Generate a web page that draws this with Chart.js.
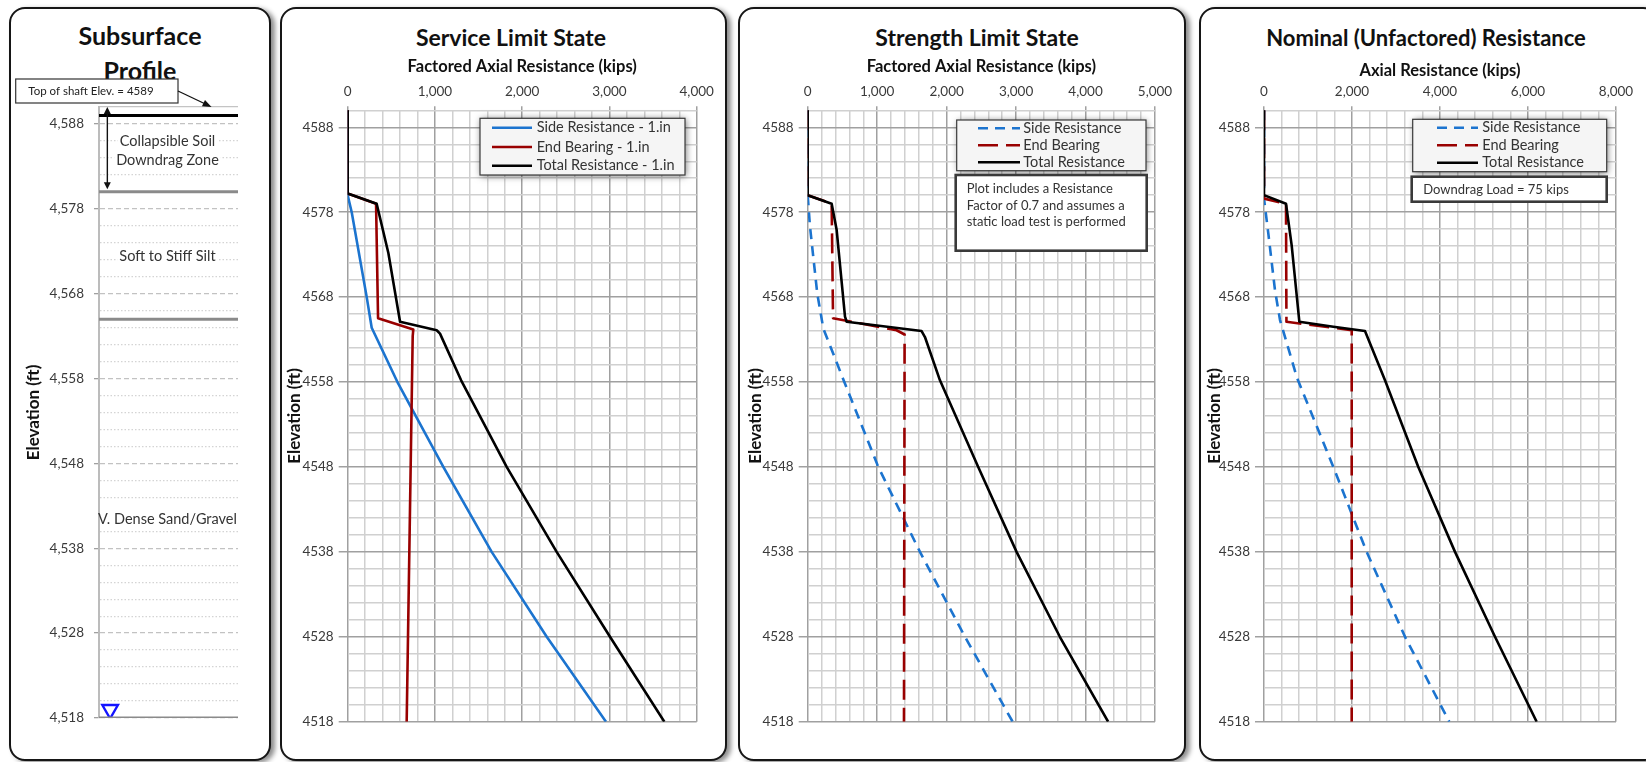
<!DOCTYPE html>
<html lang="en">
<head>
<meta charset="UTF-8">
<title>Drilled Shaft Axial Resistance</title>
<script src="https://cdn.jsdelivr.net/npm/chart.js@4.4.2/dist/chart.umd.min.js"></script>
<style>
  body { margin: 0; background: #fff; width: 1646px; height: 762px; overflow: hidden; position: relative;
         font-family: Lato, 'Open Sans', sans-serif; }
  .panel { position: absolute; top: 7px; height: 750px; border: 2px solid #161616; border-radius: 16px;
           background: #fff; box-shadow: 4px 2px 5px rgba(0,0,0,0.45); overflow: hidden; }
  .panel canvas { position: absolute; left: 0; top: 0; }
  .ttl { position: absolute; transform: translateX(-50%); white-space: nowrap; font-weight: bold;
         color: #111; text-align: center; }
</style>
</head>
<body>
<div class="panel" style="left:9px;width:258px">
  <div class="ttl" style="left:129px;top:8.5px;font-size:25px;line-height:35px">Subsurface<br>Profile</div>
  <canvas id="profile" width="258" height="750"></canvas>
</div>
<div class="panel" style="left:280px;width:443px">
  <div class="ttl" style="left:229px;top:13.7px;font-size:23px;line-height:28px">Service Limit State</div>
  <canvas id="service" width="443" height="750"></canvas>
</div>
<div class="panel" style="left:738px;width:444px">
  <div class="ttl" style="left:237px;top:13.7px;font-size:23px;line-height:28px">Strength Limit State</div>
  <canvas id="strength" width="444" height="750"></canvas>
</div>
<div class="panel" style="left:1199px;width:456px">
  <div class="ttl" style="left:225px;top:15.3px;font-size:22px;line-height:28px">Nominal (Unfactored) Resistance</div>
  <canvas id="nominal" width="456" height="750"></canvas>
</div>

<script>
// elevation axis, shared by all four panels
const elevMin = 4518;
const elevMax = 4590;
const elevTicks = [4518, 4528, 4538, 4548, 4558, 4568, 4578, 4588];

// subsurface profile
const shaftTopElev = 4589;
const layerBoundaries = [4580, 4565, 4518];
const layerNames = [['Collapsible Soil', 'Downdrag Zone'], ['Soft to Stiff Silt'], ['V. Dense Sand/Gravel']];
const layerNameElev = [4584.8, 4572.4, 4541.4];
const waterTableElev = 4519;
const downdragZone = [4590, 4580.3];
const shaftNote = 'Top of shaft Elev. = 4589';

// Service limit state (kips vs elevation)
const svcTicks = [0, 1000, 2000, 3000, 4000];
const svcLabels = ['Side Resistance - 1.in', 'End Bearing - 1.in', 'Total Resistance - 1.in'];
const svcSideElev = [4590, 4580, 4578, 4568, 4564.4, 4558, 4548, 4538, 4528, 4518];
const svcSide     = [0, 0, 46, 218, 275, 570, 1096, 1650, 2281, 2960];
const svcEndElev  = [4590, 4580.2, 4579, 4565.5, 4564.2, 4563.4, 4518];
const svcEnd      = [0, 0, 325, 348, 752, 745, 676];
const svcTotElev  = [4590, 4580.2, 4579, 4573.2, 4565.1, 4564.1, 4563.7, 4558.2, 4548, 4538, 4528, 4518];
const svcTot      = [0, 0, 332, 466, 600, 1020, 1058, 1300, 1822, 2395, 3006, 3629];

// Strength limit state
const strTicks = [0, 1000, 2000, 3000, 4000, 5000];
const resLabels = ['Side Resistance', 'End Bearing', 'Total Resistance'];
const strSideElev = [4590, 4580, 4576.3, 4568.4, 4564.3, 4558.8, 4548, 4538, 4528, 4518];
const strSide     = [0, 0, 33, 138, 225, 489, 1016, 1616, 2264, 2950];
const strEndElev  = [4590, 4580, 4579, 4565.5, 4564.1, 4563.6, 4518];
const strEnd      = [0, 0, 345, 365, 1280, 1395, 1386];
const strTotElev  = [4590, 4580, 4579, 4575.9, 4565.7, 4565.1, 4564, 4563.3, 4558.2, 4548, 4538, 4528, 4518];
const strTot      = [0, 0, 345, 417, 537, 561, 1640, 1688, 1904, 2455, 3007, 3630, 4325];
const strNote = ['Plot includes a Resistance', 'Factor of 0.7 and assumes a', 'static load test is performed'];

// Nominal (unfactored) resistance
const nomTicks = [0, 2000, 4000, 6000, 8000];
const nomSideElev = [4590, 4579.6, 4575.5, 4568.8, 4565.3, 4558.5, 4548, 4538, 4528, 4518];
const nomSide     = [0, 0, 98, 250, 364, 750, 1576, 2333, 3205, 4210];
const nomEndElev  = [4590, 4579.6, 4579, 4565.1, 4564.1, 4518];
const nomEnd      = [0, 0, 500, 510, 1993, 1993];
const nomTotElev  = [4590, 4580, 4579, 4574.1, 4565.1, 4564.5, 4564, 4558.2, 4548, 4538, 4528, 4518];
const nomTot      = [0, 0, 500, 629, 803, 1576, 2295, 2750, 3507, 4341, 5250, 6197];
const nomNote = ['Downdrag Load = 75 kips'];

const FONT = 'Lato, "Open Sans", sans-serif';
const TICK = '#3a3a3a';
const MAJOR = '#a0a0a0';
const MINOR = '#d0d0d0';
const BLUE = '#1c74cf';
const RED = '#990000';
const BLACK = '#000';
const NONE = 'rgba(0,0,0,0)';

const pts = (xs, ys) => xs.map((x, i) => ({x: x, y: ys[i]}));
const majorElev = c => c.tick && elevTicks.includes(c.tick.value);

// legend + note box, drawn from the chart's own datasets
function boxPlugin(lg, note) {
  return {
    id: 'boxes',
    afterDraw(chart) {
      const ctx = chart.ctx;
      ctx.save();
      ctx.shadowColor = 'rgba(0,0,0,0.55)';
      ctx.shadowBlur = 7;
      ctx.shadowOffsetX = 1;
      ctx.shadowOffsetY = 1;
      ctx.fillStyle = '#f5f5f5';
      ctx.fillRect(lg.x, lg.y, lg.w, lg.h);
      ctx.restore();
      ctx.save();
      ctx.strokeStyle = '#3a3a3a';
      ctx.lineWidth = 1.2;
      ctx.strokeRect(lg.x, lg.y, lg.w, lg.h);
      ctx.font = '14.5px ' + FONT;
      ctx.textBaseline = 'middle';
      chart.data.datasets.forEach((ds, i) => {
        const y = lg.rows[i];
        ctx.beginPath();
        ctx.setLineDash(ds.borderDash);
        ctx.lineWidth = ds.borderWidth;
        ctx.strokeStyle = ds.borderColor;
        ctx.moveTo(lg.x1, y);
        ctx.lineTo(lg.x2, y);
        ctx.stroke();
        ctx.fillStyle = '#333';
        ctx.fillText(ds.label, lg.tx, y);
      });
      ctx.setLineDash([]);
      if (note) {
        ctx.fillStyle = '#fff';
        ctx.fillRect(note.x, note.y, note.w, note.h);
        ctx.strokeStyle = '#3a3a3a';
        ctx.strokeRect(note.x, note.y, note.w, note.h);
        ctx.fillStyle = '#333';
        ctx.font = '13px ' + FONT;
        note.text.forEach((t, i) => ctx.fillText(t, note.tx, note.rows[i]));
      }
      ctx.restore();
    }
  };
}

function resistanceChart(id, s) {
  const cv = document.getElementById(id);
  const W = cv.width, H = cv.height;
  const titleSize = 16.5;
  const major = c => c.tick && s.xTicks.includes(c.tick.value);
  return new Chart(cv, {
    type: 'scatter',
    data: {
      datasets: s.series.map((d, i) => ({
        label: d.label,
        data: pts(d.kips, d.elev),
        showLine: true,
        borderColor: d.color,
        backgroundColor: d.color,
        borderWidth: 2.6,
        borderDash: d.dash,
        borderJoinStyle: 'round',
        pointRadius: 0,
        order: s.series.length - i
      }))
    },
    options: {
      responsive: false,
      animation: false,
      events: [],
      layout: {padding: {left: 0, top: 0, right: W - s.area.r, bottom: H - s.area.b}},
      plugins: {legend: {display: false}, tooltip: {enabled: false}},
      scales: {
        x: {
          type: 'linear', position: 'top', min: 0, max: s.xTicks[s.xTicks.length - 1],
          ticks: {stepSize: s.xStep, autoSkip: false, maxRotation: 0, minRotation: 0, padding: 7,
                  color: TICK, font: {family: FONT, size: 13.5},
                  callback: v => s.xTicks.includes(v) ? v.toLocaleString('en-US') : ''},
          grid: {color: c => major(c) ? MAJOR : MINOR, lineWidth: 1.5, tickLength: 4,
                 tickColor: c => major(c) ? MAJOR : NONE},
          border: {display: false},
          title: {display: true, text: s.xTitle, color: '#111',
                  font: {family: FONT, size: titleSize, weight: 'bold'},
                  padding: {top: s.xTitleY - titleSize * 0.6, bottom: 0}},
          afterFit: sc => { sc.height = s.area.t; }
        },
        y: {
          min: elevMin, max: elevMax,
          ticks: {stepSize: 2, autoSkip: false, padding: 5, color: TICK, font: {family: FONT, size: 13.5},
                  callback: v => elevTicks.includes(v) ? String(v) : ''},
          grid: {color: c => majorElev(c) ? MAJOR : MINOR, lineWidth: 1.5, tickLength: 9,
                 tickColor: c => majorElev(c) ? MAJOR : NONE},
          border: {display: false},
          title: {display: true, text: 'Elevation (ft)', color: '#111',
                  font: {family: FONT, size: 17, weight: 'bold'},
                  padding: {top: s.yTitleX - 17 * 0.6, bottom: 0}},
          afterFit: sc => { sc.width = s.area.l; }
        }
      }
    },
    plugins: [boxPlugin(s.legend, s.note)]
  });
}

const solid = [];
const dashSide = [10, 7];
const dashEnd = [20, 8];

resistanceChart('service', {
  area: {l: 65.7, r: 414.7, t: 101.3, b: 712.7},
  xTicks: svcTicks, xStep: 200, xTitle: 'Factored Axial Resistance (kips)', xTitleY: 57.7, yTitleX: 13,
  series: [
    {label: svcLabels[0], kips: svcSide, elev: svcSideElev, color: BLUE, dash: solid},
    {label: svcLabels[1], kips: svcEnd, elev: svcEndElev, color: RED, dash: solid},
    {label: svcLabels[2], kips: svcTot, elev: svcTotElev, color: BLACK, dash: solid}
  ],
  legend: {x: 198, y: 109.3, w: 205, h: 56.7, x1: 210, x2: 250, tx: 254.7, rows: [118.7, 138, 156.7]}
});

resistanceChart('strength', {
  area: {l: 67.7, r: 415, t: 101.3, b: 712.7},
  xTicks: strTicks, xStep: 200, xTitle: 'Factored Axial Resistance (kips)', xTitleY: 57.7, yTitleX: 16,
  series: [
    {label: resLabels[0], kips: strSide, elev: strSideElev, color: BLUE, dash: dashSide},
    {label: resLabels[1], kips: strEnd, elev: strEndElev, color: RED, dash: dashEnd},
    {label: resLabels[2], kips: strTot, elev: strTotElev, color: BLACK, dash: solid}
  ],
  legend: {x: 216.7, y: 111, w: 189.3, h: 50.7, x1: 238, x2: 280, tx: 283.3, rows: [119.3, 136.3, 153.3]},
  note: {x: 215.7, y: 166, w: 191, h: 75.7, tx: 226.7, rows: [180, 196.7, 213.3], text: strNote}
});

resistanceChart('nominal', {
  area: {l: 63, r: 415, t: 101.3, b: 712.7},
  xTicks: nomTicks, xStep: 400, xTitle: 'Axial Resistance (kips)', xTitleY: 61.7, yTitleX: 14,
  series: [
    {label: resLabels[0], kips: nomSide, elev: nomSideElev, color: BLUE, dash: dashSide},
    {label: resLabels[1], kips: nomEnd, elev: nomEndElev, color: RED, dash: dashEnd},
    {label: resLabels[2], kips: nomTot, elev: nomTotElev, color: BLACK, dash: solid}
  ],
  legend: {x: 211.7, y: 110.3, w: 194, h: 52.4, x1: 236, x2: 277, tx: 281.3, rows: [118.7, 136.3, 153.7]},
  note: {x: 210.7, y: 167.7, w: 195, h: 25, tx: 222.3, rows: [181], text: nomNote}
});

// subsurface profile panel
function arrowHead(ctx, x, y, ang, len, half) {
  ctx.beginPath();
  ctx.moveTo(x, y);
  ctx.lineTo(x - len * Math.cos(ang) + half * Math.sin(ang), y - len * Math.sin(ang) - half * Math.cos(ang));
  ctx.lineTo(x - len * Math.cos(ang) - half * Math.sin(ang), y - len * Math.sin(ang) + half * Math.cos(ang));
  ctx.closePath();
  ctx.fill();
}

const profilePlugin = {
  id: 'profile',
  afterDraw(chart) {
    const {ctx, chartArea: ca} = chart;
    const x = chart.scales.x, y = chart.scales.y;
    ctx.save();
    // layer names, on a white strip that stays inside the plot
    ctx.font = '14.5px ' + FONT;
    ctx.textAlign = 'center';
    ctx.textBaseline = 'middle';
    const cx = (ca.left + ca.right) / 2 - 1;
    layerNames.forEach((lines, i) => {
      const yc = y.getPixelForValue(layerNameElev[i]);
      lines.forEach((t, j) => {
        const ty = yc + (j - (lines.length - 1) / 2) * 19;
        const w = ctx.measureText(t).width;
        const l = Math.max(ca.left + 1.5, cx - w / 2 - 2);
        const r = Math.min(ca.right, cx + w / 2 + 2);
        ctx.fillStyle = '#fff';
        ctx.fillRect(l, ty - 8, r - l, 16);
        ctx.fillStyle = '#333';
        ctx.fillText(t, cx, ty);
      });
    });
    // downdrag zone arrow
    const ax = x.getPixelForValue(0.06);
    const y1 = y.getPixelForValue(downdragZone[0]), y2 = y.getPixelForValue(downdragZone[1]);
    ctx.strokeStyle = '#111';
    ctx.fillStyle = '#111';
    ctx.lineWidth = 1.4;
    ctx.beginPath();
    ctx.moveTo(ax, y1 + 4);
    ctx.lineTo(ax, y2 - 4);
    ctx.stroke();
    arrowHead(ctx, ax, y1, -Math.PI / 2, 7, 3.5);
    arrowHead(ctx, ax, y2, Math.PI / 2, 7, 3.5);
    // callout for top of shaft
    const bx = 4.7, by = 70, bw = 162.3, bh = 24;
    ctx.fillStyle = '#fff';
    ctx.fillRect(bx, by, bw, bh);
    ctx.strokeStyle = '#333';
    ctx.lineWidth = 1.2;
    ctx.strokeRect(bx, by, bw, bh);
    ctx.fillStyle = '#222';
    ctx.font = '11.5px ' + FONT;
    ctx.textAlign = 'left';
    ctx.fillText(shaftNote, 17.3, by + bh / 2);
    const tx = x.getPixelForValue(0.81), ty = y.getPixelForValue(elevMax);
    ctx.strokeStyle = '#111';
    ctx.fillStyle = '#111';
    ctx.lineWidth = 1.3;
    ctx.beginPath();
    ctx.moveTo(bx + bw, by + bh / 2);
    ctx.lineTo(tx - 3, ty - 1.5);
    ctx.stroke();
    arrowHead(ctx, tx, ty, Math.atan2(ty - (by + bh / 2), tx - (bx + bw)), 9, 3.5);
    ctx.restore();
  }
};

(function () {
  const cv = document.getElementById('profile');
  const area = {l: 88, r: 227, t: 98, b: 709};
  const lineDs = (elev, color, width) => ({
    data: pts([0, 1], [elev, elev]), showLine: true, borderColor: color, borderWidth: width, pointRadius: 0
  });
  new Chart(cv, {
    type: 'scatter',
    data: {
      datasets: [
        lineDs(shaftTopElev, '#000', 3),
        ...layerBoundaries.map(e => lineDs(e, '#8a8a8a', 3)),
        {data: [{x: 0.08, y: waterTableElev}], pointStyle: 'triangle', rotation: 180, pointRadius: 9,
         borderColor: '#1414ff', backgroundColor: '#fff', borderWidth: 2.4}
      ]
    },
    options: {
      responsive: false,
      animation: false,
      events: [],
      layout: {padding: {left: 0, top: area.t, right: cv.width - area.r, bottom: cv.height - area.b}},
      plugins: {legend: {display: false}, tooltip: {enabled: false}},
      scales: {
        x: {type: 'linear', display: false, min: 0, max: 1},
        y: {
          min: elevMin, max: elevMax,
          ticks: {stepSize: 2, autoSkip: false, padding: 10, color: TICK, font: {family: FONT, size: 13.5},
                  callback: v => elevTicks.includes(v) ? v.toLocaleString('en-US') : ''},
          grid: {color: c => c.tick && c.tick.value === elevMax ? '#c4c4c4' : majorElev(c) ? '#c2c2c2' : '#d4d4d4',
                 lineWidth: 1.3, tickLength: 5,
                 tickColor: c => majorElev(c) ? '#a0a0a0' : NONE},
          border: {display: true, color: '#bcbcbc', width: 2,
                   dash: c => !c.tick || c.tick.value === elevMax ? [] : majorElev(c) ? [5, 3] : [1.5, 2]},
          title: {display: true, text: 'Elevation (ft)', color: '#111',
                  font: {family: FONT, size: 17, weight: 'bold'},
                  padding: {top: 23 - 17 * 0.6, bottom: 0}},
          afterFit: sc => { sc.width = area.l; }
        }
      }
    },
    plugins: [profilePlugin]
  });
})();
</script>
</body>
</html>
